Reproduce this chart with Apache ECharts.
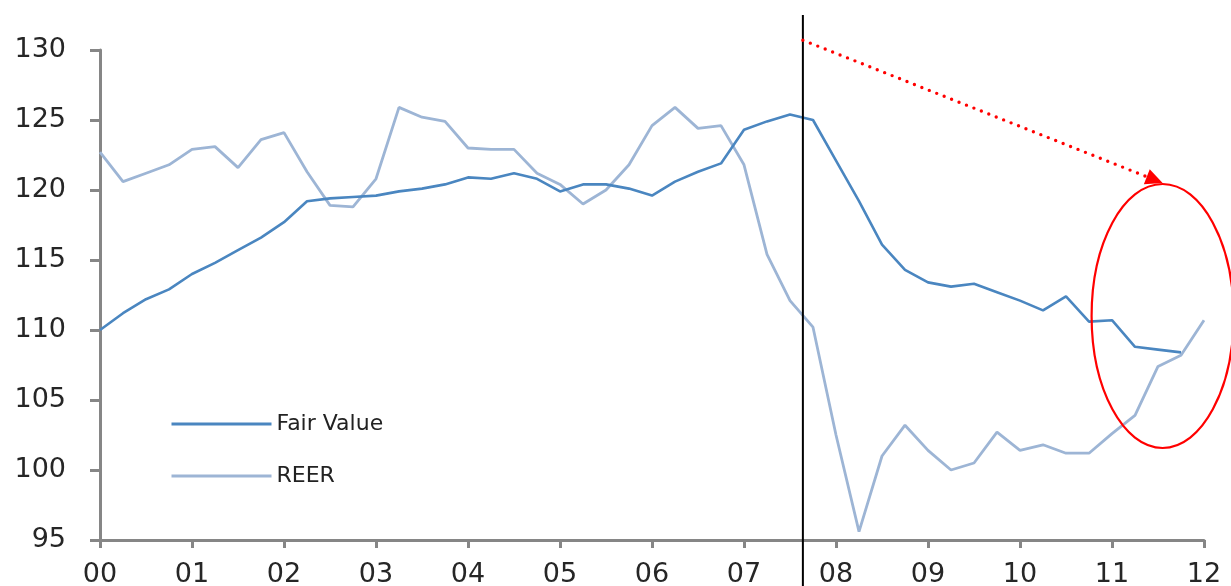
<!DOCTYPE html>
<html>
<head>
<meta charset="utf-8">
<script src="https://cdn.jsdelivr.net/npm/echarts@6/dist/echarts.min.js"></script>
<style>
  html, body { margin: 0; padding: 0; background: #ffffff; }
  #chart { width: 1231px; height: 586px; }
</style>
</head>
<body>
<div id="chart"></div>
<script>
// Quarterly index values, 2000 Q1 .. 2012 Q1
const yearLabels = ['00', '01', '02', '03', '04', '05', '06', '07', '08', '09', '10', '11', '12'];

const fairValue = [
  110.0, 111.2, 112.2, 112.9, 114.0, 114.8, 115.7, 116.6,
  117.7, 119.2, 119.4, 119.5, 119.6, 119.9, 120.1, 120.4,
  120.9, 120.8, 121.2, 120.8, 119.9, 120.4, 120.4, 120.1,
  119.6, 120.6, 121.3, 121.9, 124.3, 124.9, 125.4, 125.0,
  122.1, 119.2, 116.1, 114.3, 113.4, 113.1, 113.3, 112.7,
  112.1, 111.4, 112.4, 110.6, 110.7, 108.8, 108.6, 108.4,
  null
];

const reer = [
  122.7, 120.6, 121.2, 121.8, 122.9, 123.1, 121.6, 123.6,
  124.1, 121.3, 118.9, 118.8, 120.8, 125.9, 125.2, 124.9,
  123.0, 122.9, 122.9, 121.2, 120.4, 119.0, 120.0, 121.8,
  124.6, 125.9, 124.4, 124.6, 121.8, 115.4, 112.1, 110.2,
  102.5, 95.6, 101.0, 103.2, 101.4, 100.0, 100.5, 102.7,
  101.4, 101.8, 101.2, 101.2, 102.6, 103.9, 107.4, 108.2,
  110.7
];

// Annotation anchors in data units (quarter index, index level)
const cutoffQuarter = 30.56;
const trendStart = [30.56, 130.7];
const trendEnd = [46.2, 120.5];
const circleCenter = [46.2, 111.0];

const chart = echarts.init(document.getElementById('chart'), null, { renderer: 'canvas' });

const axisGrey = '#868686';
const labelFont = 'DejaVu Sans';

chart.setOption({
  animation: false,
  backgroundColor: '#ffffff',
  grid: { left: 100, right: 27, top: 50, bottom: 46, containLabel: false, outerBoundsMode: 'none' },
  legend: {
    orient: 'vertical',
    left: 165,
    top: 408,
    itemWidth: 100,
    itemHeight: 20,
    itemGap: 30,
    itemStyle: { opacity: 0 },
    lineStyle: { width: 3 },
    textStyle: { fontFamily: labelFont, fontSize: 22, color: '#222222' },
    data: ['Fair Value', 'REER']
  },
  xAxis: {
    type: 'value',
    min: 0,
    max: 48,
    interval: 4,
    axisLine: { show: true, lineStyle: { color: axisGrey, width: 3 } },
    axisTick: { show: true, length: 8, lineStyle: { color: axisGrey, width: 3 } },
    splitLine: { show: false },
    axisLabel: {
      margin: 21,
      fontFamily: labelFont,
      fontSize: 27,
      color: '#262626',
      formatter: v => yearLabels[Math.round(v / 4)]
    }
  },
  yAxis: {
    type: 'value',
    min: 95,
    max: 130,
    interval: 5,
    axisLine: { show: true, lineStyle: { color: axisGrey, width: 3 } },
    axisTick: { show: true, length: 10, lineStyle: { color: axisGrey, width: 3 } },
    splitLine: { show: false },
    axisLabel: {
      margin: 34,
      fontFamily: labelFont,
      fontSize: 27,
      color: '#262626'
    }
  },
  series: [
    {
      name: 'Fair Value',
      type: 'line',
      symbol: 'none',
      data: fairValue.map((v, i) => [i, v]),
      lineStyle: { color: '#4a86c0', width: 2.6 },
      itemStyle: { color: '#4a86c0' },
      z: 3
    },
    {
      name: 'REER',
      type: 'line',
      symbol: 'none',
      data: reer.map((v, i) => [i, v]),
      lineStyle: { color: '#9db5d5', width: 2.8 },
      itemStyle: { color: '#9db5d5' },
      z: 2
    }
  ]
});

// Overlay: cut-off line, dotted trend arrow and highlight ellipse
function px(pt) {
  return chart.convertToPixel({ gridIndex: 0 }, pt);
}

const H = chart.getHeight();
const cutX = px([cutoffQuarter, 130])[0];
const p0 = px(trendStart);
const p1 = px(trendEnd);
const c = px(circleCenter);

const dx = p1[0] - p0[0], dy = p1[1] - p0[1];
const len = Math.sqrt(dx * dx + dy * dy);
const ux = dx / len, uy = dy / len;
const headLen = 17, headHalf = 8;
const baseX = p1[0] - ux * headLen, baseY = p1[1] - uy * headLen;

chart.setOption({
  graphic: [
    {
      type: 'line',
      z: 10,
      shape: { x1: cutX, y1: 15, x2: cutX, y2: H },
      style: { stroke: '#000000', lineWidth: 2 }
    },
    {
      type: 'line',
      z: 10,
      shape: { x1: p0[0], y1: p0[1], x2: baseX, y2: baseY },
      style: { stroke: '#ff0000', lineWidth: 3.4, lineDash: [0, 8], lineCap: 'round' }
    },
    {
      type: 'polygon',
      z: 10,
      shape: {
        points: [
          [p1[0], p1[1]],
          [baseX - uy * headHalf, baseY + ux * headHalf],
          [baseX + uy * headHalf, baseY - ux * headHalf]
        ]
      },
      style: { fill: '#ff0000' }
    },
    {
      type: 'ellipse',
      z: 10,
      shape: { cx: c[0], cy: c[1], rx: 71, ry: 132 },
      style: { fill: 'none', stroke: '#ff0000', lineWidth: 2.2 }
    }
  ]
});
</script>
</body>
</html>
